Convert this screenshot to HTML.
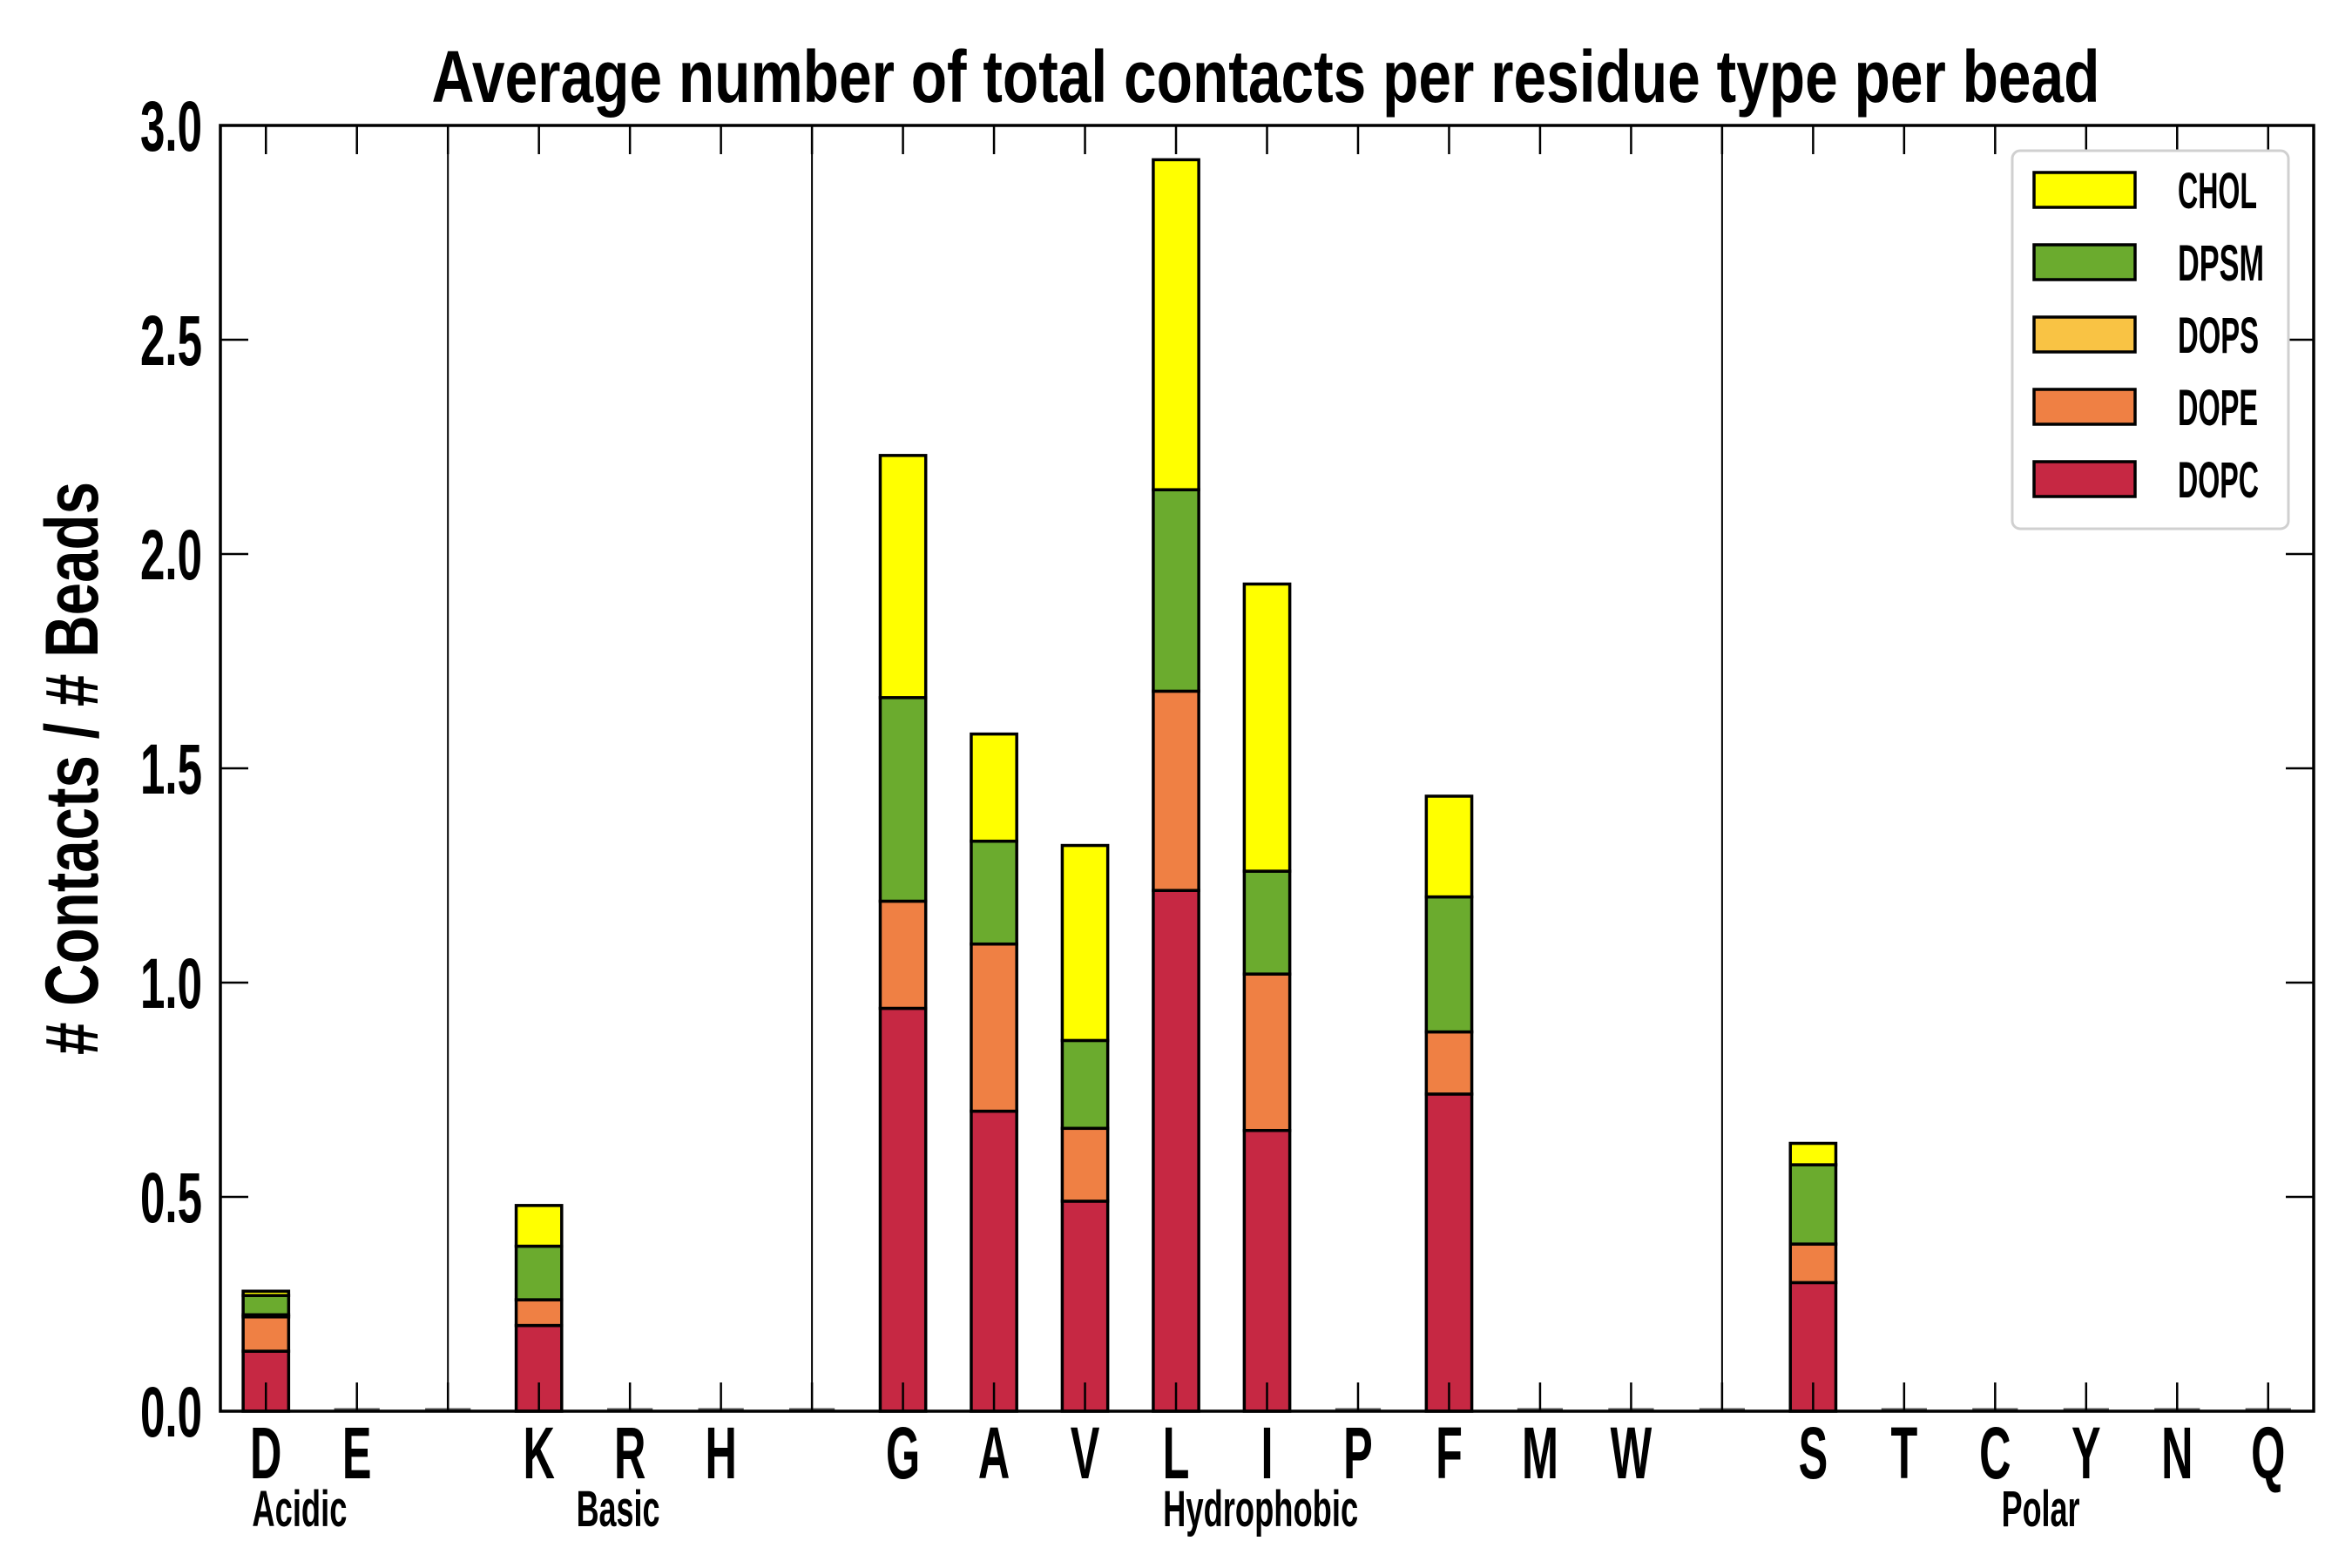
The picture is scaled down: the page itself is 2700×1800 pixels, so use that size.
<!DOCTYPE html>
<html><head><meta charset="utf-8"><style>
html,body{margin:0;padding:0;background:#fff;}
svg{display:block;}
text{font-family:"Liberation Sans Narrow","Liberation Sans",sans-serif;font-weight:bold;fill:#000;}
</style></head><body>
<svg id="chart" width="2700" height="1800" viewBox="0 0 2700 1800" xmlns="http://www.w3.org/2000/svg">
<text x="1453" y="117" text-anchor="middle" font-size="84" textLength="1915" lengthAdjust="spacingAndGlyphs">Average number of total contacts per residue type per bead</text>
<text transform="translate(112,882) rotate(-90)" text-anchor="middle" font-size="86" textLength="658" lengthAdjust="spacingAndGlyphs"># Contacts / # Beads</text>
<g id="plot"></g>
</svg>
<script>
const categories = ["D","E","","K","R","H","","G","A","V","L","I","P","F","M","W","","S","T","C","Y","N","Q"];
const separators = [2, 6, 16];
const groupNames = ["Acidic","Basic","Hydrophobic","Polar"];
const groupCenters = [0.37, 3.87, 10.93, 19.5];
const seriesNames = ["DOPC","DOPE","DOPS","DPSM","CHOL"];
const seriesColors = ["#c62843","#ef8044","#f9c344","#6bab2e","#ffff00"];
const dopc = [0.14,0,0,0.20,0,0,0,0.94,0.70,0.49,1.215,0.655,0,0.74,0,0,0,0.30,0,0,0,0,0];
const dope = [0.08,0,0,0.06,0,0,0,0.25,0.39,0.17,0.465,0.365,0,0.145,0,0,0,0.09,0,0,0,0,0];
const dops = [0.005,0,0,0,0,0,0,0,0,0,0,0,0,0,0,0,0,0,0,0,0,0,0];
const dpsm = [0.045,0,0,0.125,0,0,0,0.475,0.24,0.205,0.47,0.24,0,0.315,0,0,0,0.185,0,0,0,0,0];
const chol = [0.01,0,0,0.095,0,0,0,0.565,0.25,0.455,0.77,0.67,0,0.235,0,0,0,0.05,0,0,0,0,0];
const yTicks = [0,0.5,1.0,1.5,2.0,2.5,3.0];

const L=253,R=2656,T=144,B=1620,yMax=3.0;
const n=categories.length;
const slot=(R-L)/n;
const xs=i=>L+slot*(i+0.5);
const ys=v=>B-(v/yMax)*(B-T);
const NS="http://www.w3.org/2000/svg";
const g=document.getElementById('plot');
function mk(tag,attrs){const e=document.createElementNS(NS,tag);for(const k in attrs)e.setAttribute(k,attrs[k]);g.appendChild(e);return e;}
function condText(str,x,y,size,anchor){
  const e=mk('text',{transform:'translate('+x+','+y+') scale(0.6,1)','text-anchor':anchor,'font-size':size});
  e.textContent=str;return e;
}

separators.forEach(s=>{
  const e=mk('line',{x1:xs(s),x2:xs(s),y1:T,y2:B,stroke:'#000','stroke-width':2});
  
  
});
const series=[dopc,dope,dops,dpsm,chol];
const bw=slot*0.5;
for(let i=0;i<n;i++){
  let base=0;
  for(let s=0;s<series.length;s++){
    const v=series[s][i];
    if(v<=0)continue;
    const r=mk('rect',{x:xs(i)-bw/2,y:ys(base+v),width:bw,height:ys(base)-ys(base+v),fill:seriesColors[s],stroke:'#000','stroke-width':3.5});
    
    
    base+=v;
  }
  if(base===0){
    const z=mk('line',{x1:xs(i)-bw/2,x2:xs(i)+bw/2,y1:B-2,y2:B-2,stroke:'#555','stroke-width':3});
    
    
  }
}
const fr=mk('rect',{x:L,y:T,width:R-L,height:B-T,fill:'none',stroke:'#000','stroke-width':3.5});


yTicks.forEach(t=>{
  const y=ys(t);
  const a=mk('line',{x1:L,x2:L+32,y1:y,y2:y,stroke:'#000','stroke-width':2.5});
  
  
  const b=mk('line',{x1:R-32,x2:R,y1:y,y2:y,stroke:'#000','stroke-width':2.5});
  
  
  const tx=mk('text',{x:232,y:y+29,'text-anchor':'end','font-size':82,textLength:71,lengthAdjust:'spacingAndGlyphs'});
  tx.textContent=t.toFixed(1);
  
  
});
for(let i=0;i<n;i++){
  const x=xs(i);
  const a=mk('line',{x1:x,x2:x,y1:B,y2:B-33,stroke:'#000','stroke-width':2.5});
  
  
  const b=mk('line',{x1:x,x2:x,y1:T,y2:T+33,stroke:'#000','stroke-width':2.5});
  
  
  if(categories[i]){
    const tx=condText(categories[i],x,1697,84,'middle');
    
    
  }
}
const groupWidths=[109,96,224,90];
groupNames.forEach((nm,k)=>{
  const tx=mk('text',{x:xs(groupCenters[k]),y:1752,'text-anchor':'middle','font-size':58,textLength:groupWidths[k],lengthAdjust:'spacingAndGlyphs'});
  tx.textContent=nm;
  
  
});
const lg=mk('rect',{x:2310,y:173,width:317,height:434,rx:9,fill:'#fff',stroke:'#d0d0d0','stroke-width':3});


const order=[4,3,2,1,0];
const legWidths={CHOL:91,DPSM:99,DOPS:93,DOPE:92,DOPC:93};
order.forEach((s,k)=>{
  const y=198+k*83;
  const p=mk('rect',{x:2335,y:y,width:116,height:40,fill:seriesColors[s],stroke:'#000','stroke-width':3.5});
  
  
  const tx=mk('text',{x:2500,y:y+41,'font-size':58,textLength:legWidths[seriesNames[s]],lengthAdjust:'spacingAndGlyphs'});
  tx.textContent=seriesNames[s];
  
  
});
</script>
</body></html>
